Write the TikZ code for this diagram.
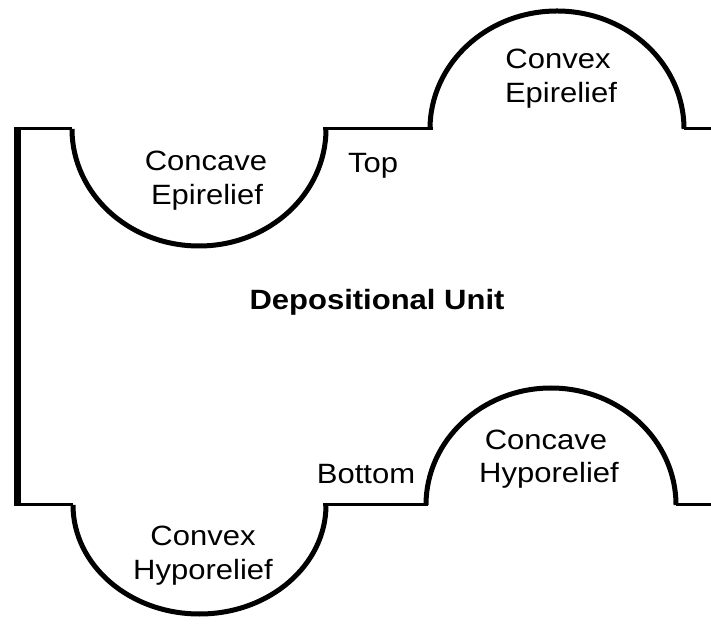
\documentclass[tikz,border=0pt]{standalone}
\usepackage{fontspec}
\setmainfont{Liberation Sans}
\begin{document}
\begin{tikzpicture}[x=1pt,y=1pt,
  flat/.style={line width=3pt,line cap=butt},
  relief/.style={line width=5pt,line cap=butt},
  edge/.style={line width=7pt,line cap=butt},
  lbl/.style={font=\fontsize{31}{36}\selectfont,yscale=0.9,inner sep=0pt,anchor=base},
  bold/.style={lbl,font=\fontsize{31}{36}\selectfont\bfseries}]
\useasboundingbox[fill=white] (0,0) rectangle (711,626);
% top surface (y_img 129 -> 497)
\coordinate (t0) at (21,497);
\coordinate (t1) at (72,497);
\coordinate (t2) at (326,497);
\coordinate (t2b) at (323,497);
\coordinate (t3) at (433,497);
\coordinate (t3b) at (430,497);
\coordinate (t4) at (684,497);
\coordinate (t5) at (711,497);
% bottom surface (y_img 505 -> 121)
\coordinate (b0) at (21,121);
\coordinate (b1) at (73,121);
\coordinate (b2) at (326,121);
\coordinate (b2b) at (323,121);
\coordinate (b3) at (428,121);
\coordinate (b3b) at (426,121);
\coordinate (b4) at (676,121);
\coordinate (b5) at (711,121);
% left edge
\draw[edge] (17.5,498.5) -- (17.5,119.5);
% top
\draw[flat] (t0) -- (t1);
\draw[relief] (t1) arc[start angle=180,end angle=360,x radius=127pt,y radius=117pt];
\draw[flat] (t2b) -- (t3);
\draw[relief] (t3b) arc[start angle=180,end angle=0,x radius=127pt,y radius=118pt];
\draw[flat] (t4) -- (t5);
% bottom
\draw[flat] (b0) -- (b1);
\draw[relief] (b1) arc[start angle=180,end angle=360,x radius=126.5pt,y radius=109pt];
\draw[flat] (b2b) -- (b3);
\draw[relief] (b3b) arc[start angle=180,end angle=0,x radius=125pt,y radius=117pt];
\draw[flat] (b4) -- (b5);
% labels
\node[lbl] (ce1) at (206,455) {Concave};
\node[lbl] (ce2) at (207,421) {Epirelief};
\node[lbl] (top) at (373,453) {Top};
\node[lbl] (cx1) at (558,557) {Convex};
\node[lbl] (cx2) at (561,523) {Epirelief};
\node[bold] (du) at (377,316) {Depositional Unit};
\node[lbl] (bot) at (366,142) {Bottom};
\node[lbl] (ch1) at (546,176) {Concave};
\node[lbl] (ch2) at (549,143) {Hyporelief};
\node[lbl] (vh1) at (203,81) {Convex};
\node[lbl] (vh2) at (203,47) {Hyporelief};
\end{tikzpicture}
\end{document}
